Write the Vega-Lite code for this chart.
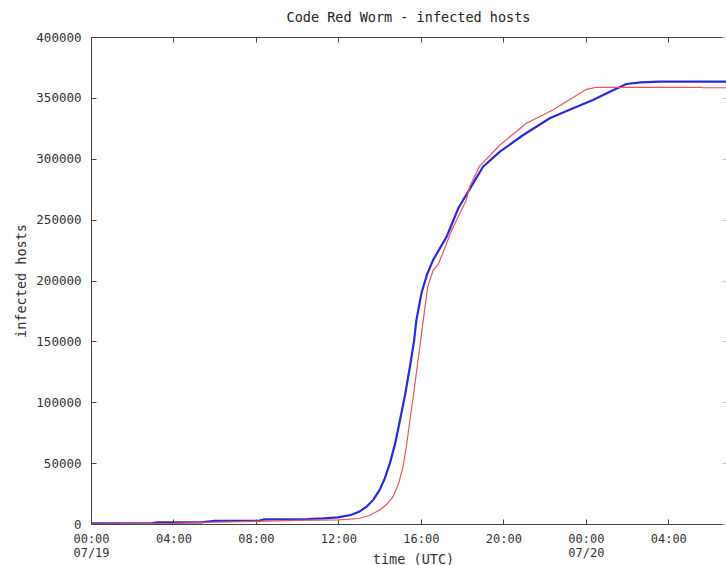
{
  "$schema": "https://vega.github.io/schema/vega-lite/v6.json",
  "width": 635,
  "height": 487,
  "autosize": {"type": "none"},
  "padding": {"left": 91, "top": 37, "right": 0, "bottom": 41},
  "background": "white",
  "title": {
    "text": "Code Red Worm - infected hosts",
    "font": "DejaVu Sans Mono",
    "fontSize": 13.5,
    "fontWeight": "normal",
    "color": "#222",
    "offset": 7,
    "anchor": "middle"
  },
  "config": {
    "view": {"stroke": null},
    "axis": {
      "labelFont": "DejaVu Sans Mono",
      "labelFontSize": 12.5,
      "labelColor": "#333",
      "titleFont": "DejaVu Sans Mono",
      "titleFontSize": 13.5,
      "titleFontWeight": "normal",
      "titleColor": "#333",
      "domainColor": "#444",
      "tickColor": "#444",
      "grid": false
    }
  },
  "data": {
    "values": [
      {"time": "2001-07-19T00:00:00Z", "series": "blue", "hosts": 600},
      {"time": "2001-07-19T02:54:00Z", "series": "blue", "hosts": 600},
      {"time": "2001-07-19T03:14:00Z", "series": "blue", "hosts": 1400},
      {"time": "2001-07-19T05:20:00Z", "series": "blue", "hosts": 1400},
      {"time": "2001-07-19T05:59:00Z", "series": "blue", "hosts": 2500},
      {"time": "2001-07-19T08:05:00Z", "series": "blue", "hosts": 2500},
      {"time": "2001-07-19T08:24:00Z", "series": "blue", "hosts": 3800},
      {"time": "2001-07-19T10:30:00Z", "series": "blue", "hosts": 4100},
      {"time": "2001-07-19T11:18:00Z", "series": "blue", "hosts": 4700},
      {"time": "2001-07-19T11:58:00Z", "series": "blue", "hosts": 5500},
      {"time": "2001-07-19T12:36:00Z", "series": "blue", "hosts": 7400},
      {"time": "2001-07-19T13:00:00Z", "series": "blue", "hosts": 10000},
      {"time": "2001-07-19T13:22:00Z", "series": "blue", "hosts": 14200},
      {"time": "2001-07-19T13:42:00Z", "series": "blue", "hosts": 20000},
      {"time": "2001-07-19T14:00:00Z", "series": "blue", "hosts": 28000},
      {"time": "2001-07-19T14:15:00Z", "series": "blue", "hosts": 37500},
      {"time": "2001-07-19T14:30:00Z", "series": "blue", "hosts": 50000},
      {"time": "2001-07-19T14:45:00Z", "series": "blue", "hosts": 66000},
      {"time": "2001-07-19T14:59:00Z", "series": "blue", "hosts": 85000},
      {"time": "2001-07-19T15:14:00Z", "series": "blue", "hosts": 106000},
      {"time": "2001-07-19T15:28:00Z", "series": "blue", "hosts": 129000},
      {"time": "2001-07-19T15:40:00Z", "series": "blue", "hosts": 150000},
      {"time": "2001-07-19T15:47:00Z", "series": "blue", "hosts": 167500},
      {"time": "2001-07-19T16:02:00Z", "series": "blue", "hosts": 190000},
      {"time": "2001-07-19T16:18:00Z", "series": "blue", "hosts": 205000},
      {"time": "2001-07-19T16:36:00Z", "series": "blue", "hosts": 217000},
      {"time": "2001-07-19T17:15:00Z", "series": "blue", "hosts": 236000},
      {"time": "2001-07-19T17:49:00Z", "series": "blue", "hosts": 259300},
      {"time": "2001-07-19T18:32:00Z", "series": "blue", "hosts": 279800},
      {"time": "2001-07-19T19:01:00Z", "series": "blue", "hosts": 293500},
      {"time": "2001-07-19T19:50:00Z", "series": "blue", "hosts": 305800},
      {"time": "2001-07-19T20:58:00Z", "series": "blue", "hosts": 319500},
      {"time": "2001-07-19T22:15:00Z", "series": "blue", "hosts": 333200},
      {"time": "2001-07-19T23:23:00Z", "series": "blue", "hosts": 341500},
      {"time": "2001-07-20T00:21:00Z", "series": "blue", "hosts": 348300},
      {"time": "2001-07-20T01:10:00Z", "series": "blue", "hosts": 355100},
      {"time": "2001-07-20T01:58:00Z", "series": "blue", "hosts": 361400},
      {"time": "2001-07-20T02:40:00Z", "series": "blue", "hosts": 362800},
      {"time": "2001-07-20T03:36:00Z", "series": "blue", "hosts": 363300},
      {"time": "2001-07-20T06:48:00Z", "series": "blue", "hosts": 363400},
      {"time": "2001-07-19T00:00:00Z", "series": "red", "hosts": 0},
      {"time": "2001-07-19T04:00:00Z", "series": "red", "hosts": 500},
      {"time": "2001-07-19T06:00:00Z", "series": "red", "hosts": 1500},
      {"time": "2001-07-19T08:00:00Z", "series": "red", "hosts": 2200},
      {"time": "2001-07-19T10:00:00Z", "series": "red", "hosts": 3000},
      {"time": "2001-07-19T12:00:00Z", "series": "red", "hosts": 3400},
      {"time": "2001-07-19T13:00:00Z", "series": "red", "hosts": 4500},
      {"time": "2001-07-19T13:30:00Z", "series": "red", "hosts": 7000},
      {"time": "2001-07-19T14:00:00Z", "series": "red", "hosts": 11500},
      {"time": "2001-07-19T14:20:00Z", "series": "red", "hosts": 16000},
      {"time": "2001-07-19T14:39:00Z", "series": "red", "hosts": 22400},
      {"time": "2001-07-19T14:55:00Z", "series": "red", "hosts": 33000},
      {"time": "2001-07-19T15:08:00Z", "series": "red", "hosts": 47000},
      {"time": "2001-07-19T15:18:00Z", "series": "red", "hosts": 64000},
      {"time": "2001-07-19T15:28:00Z", "series": "red", "hosts": 85000},
      {"time": "2001-07-19T15:38:00Z", "series": "red", "hosts": 105000},
      {"time": "2001-07-19T15:47:00Z", "series": "red", "hosts": 124000},
      {"time": "2001-07-19T15:57:00Z", "series": "red", "hosts": 146000},
      {"time": "2001-07-19T16:07:00Z", "series": "red", "hosts": 167500},
      {"time": "2001-07-19T16:20:00Z", "series": "red", "hosts": 195000},
      {"time": "2001-07-19T16:36:00Z", "series": "red", "hosts": 208600},
      {"time": "2001-07-19T16:50:00Z", "series": "red", "hosts": 213000},
      {"time": "2001-07-19T17:04:00Z", "series": "red", "hosts": 222500},
      {"time": "2001-07-19T17:30:00Z", "series": "red", "hosts": 241500},
      {"time": "2001-07-19T18:12:00Z", "series": "red", "hosts": 266000},
      {"time": "2001-07-19T18:22:00Z", "series": "red", "hosts": 277000},
      {"time": "2001-07-19T18:50:00Z", "series": "red", "hosts": 293500},
      {"time": "2001-07-19T19:50:00Z", "series": "red", "hosts": 311300},
      {"time": "2001-07-19T21:07:00Z", "series": "red", "hosts": 329100},
      {"time": "2001-07-19T22:24:00Z", "series": "red", "hosts": 340000},
      {"time": "2001-07-19T23:03:00Z", "series": "red", "hosts": 346900},
      {"time": "2001-07-20T00:02:00Z", "series": "red", "hosts": 357000},
      {"time": "2001-07-20T00:31:00Z", "series": "red", "hosts": 358700},
      {"time": "2001-07-20T05:36:00Z", "series": "red", "hosts": 358700},
      {"time": "2001-07-20T05:40:00Z", "series": "red", "hosts": 358300},
      {"time": "2001-07-20T06:48:00Z", "series": "red", "hosts": 358300}
    ]
  },
  "resolve": {"axis": {"x": "independent", "y": "independent"}},
  "layer": [
    {
      "mark": {"type": "line", "interpolate": "linear", "clip": true},
      "encoding": {
        "x": {
          "field": "time",
          "type": "temporal",
          "scale": {
            "type": "utc",
            "domain": [
              {"year": 2001, "month": 7, "date": 19, "hours": 0, "utc": true},
              {"year": 2001, "month": 7, "date": 20, "hours": 6, "minutes": 48, "utc": true}
            ]
          },
          "axis": {
            "title": "time (UTC)",
            "values": [
              {"year": 2001, "month": 7, "date": 19, "hours": 0, "utc": true},
              {"year": 2001, "month": 7, "date": 19, "hours": 4, "utc": true},
              {"year": 2001, "month": 7, "date": 19, "hours": 8, "utc": true},
              {"year": 2001, "month": 7, "date": 19, "hours": 12, "utc": true},
              {"year": 2001, "month": 7, "date": 19, "hours": 16, "utc": true},
              {"year": 2001, "month": 7, "date": 19, "hours": 20, "utc": true},
              {"year": 2001, "month": 7, "date": 20, "hours": 0, "utc": true},
              {"year": 2001, "month": 7, "date": 20, "hours": 4, "utc": true}
            ],
            "labelExpr": "utchours(datum.value) == 0 ? [utcFormat(datum.value, '%H:%M'), utcFormat(datum.value, '%m/%d')] : utcFormat(datum.value, '%H:%M')",
            "labelAlign": "center",
            "labelBaseline": "top",
            "labelFontSize": 12,
            "labelPadding": 14,
            "labelLineHeight": 14,
            "tickSize": -5,
            "labelFlush": false,
            "titleX": 322,
            "titleY": 35,
            "titleBaseline": "middle",
            "titleAnchor": "middle"
          }
        },
        "y": {
          "field": "hosts",
          "type": "quantitative",
          "scale": {"domain": [0, 400000], "nice": false},
          "axis": {
            "title": "infected hosts",
            "values": [0, 50000, 100000, 150000, 200000, 250000, 300000, 350000, 400000],
            "format": "d",
            "tickSize": -5,
            "labelPadding": 15,
            "titlePadding": 7
          }
        },
        "color": {
          "field": "series",
          "type": "nominal",
          "scale": {"domain": ["red", "blue"], "range": ["#e8555a", "#2b2bd6"]},
          "legend": null
        },
        "strokeWidth": {
          "field": "series",
          "type": "nominal",
          "scale": {"domain": ["red", "blue"], "range": [1.2, 2.2]},
          "legend": null
        },
        "order": {"field": "time", "type": "temporal"}
      }
    },
    {
      "mark": {"type": "line", "strokeOpacity": 0, "clip": true},
      "encoding": {
        "x": {
          "field": "time",
          "type": "temporal",
          "axis": {
            "orient": "top",
            "title": null,
            "labels": false,
            "tickSize": -5,
            "values": [
              {"year": 2001, "month": 7, "date": 19, "hours": 0, "utc": true},
              {"year": 2001, "month": 7, "date": 19, "hours": 4, "utc": true},
              {"year": 2001, "month": 7, "date": 19, "hours": 8, "utc": true},
              {"year": 2001, "month": 7, "date": 19, "hours": 12, "utc": true},
              {"year": 2001, "month": 7, "date": 19, "hours": 16, "utc": true},
              {"year": 2001, "month": 7, "date": 19, "hours": 20, "utc": true},
              {"year": 2001, "month": 7, "date": 20, "hours": 0, "utc": true},
              {"year": 2001, "month": 7, "date": 20, "hours": 4, "utc": true}
            ]
          }
        },
        "y": {
          "field": "hosts",
          "type": "quantitative",
          "axis": {
            "orient": "right",
            "title": null,
            "labels": false,
            "domain": false,
            "tickSize": -4,
            "tickColor": "#bbb",
            "values": [0, 50000, 100000, 150000, 200000, 250000, 300000, 350000, 400000]
          }
        },
        "detail": {"field": "series", "type": "nominal"}
      }
    }
  ]
}
